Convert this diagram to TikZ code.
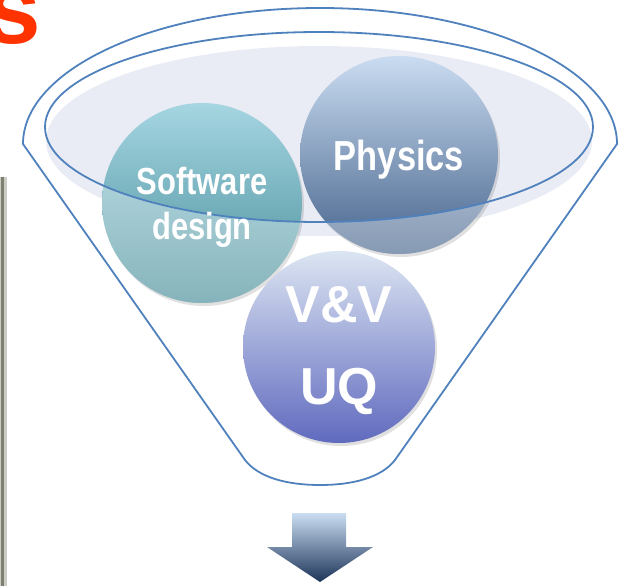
\documentclass[tikz,border=0pt]{standalone}
\usepackage{fontspec}
\setmainfont{Liberation Sans}
\newfontfamily\narrowsans[FakeStretch=0.82]{Liberation Sans}
\usetikzlibrary{positioning}

\definecolor{funnelblue}{RGB}{79,129,189}
\definecolor{rimfill}{RGB}{233,236,244}
\definecolor{softtop}{RGB}{165,214,226}
\definecolor{softbot}{RGB}{70,140,152}
\definecolor{phystop}{RGB}{202,220,241}
\definecolor{physbot}{RGB}{70,100,140}
\definecolor{vvtop}{RGB}{220,229,242}
\definecolor{vvbot}{RGB}{96,106,190}
\definecolor{titlered}{RGB}{255,51,0}
\definecolor{arrowtop}{RGB}{202,221,242}
\definecolor{arrowbot}{RGB}{28,52,88}
\definecolor{edgegray}{RGB}{128,128,112}

\tikzset{
  funnel/.style={draw=funnelblue, line width=1.8pt},
  ball/.style={circle, inner sep=0pt, text=white, align=center},
  ballshadow/.style={fill=black, opacity=.12},
  bigtext/.style={font=\bfseries\fontsize{52}{82}\selectfont},
  narrowtext/.style={font=\narrowsans\bfseries\fontsize{#1}{45}\selectfont},
}

\begin{document}
\begin{tikzpicture}[x=1pt, y=-1pt]
       \useasboundingbox (0,0) rectangle (627,586);

       \node[anchor=base east, inner sep=0pt, text=titlered, font=\bfseries\fontsize{100}{100}\selectfont] (title) at (41,44) {s};

       \draw[edgegray!40, line width=7pt] (3,177) -- (3,590);
       \draw[edgegray, line width=3pt] (2,177) -- (2,590);

       \draw[funnel] (23,144) arc[start angle=180, end angle=360, x radius=297, y radius=136]
             -- (395,460) .. controls (381,478) and (352,485) .. (320,485)
             .. controls (288,485) and (259,478) .. (245,460) -- cycle;

       \fill[rimfill] (319,141) ellipse [x radius=273, y radius=95];

       \fill[ballshadow] (204,206) circle (100);
       \fill[ballshadow] (401,158) circle (99);
       \fill[ballshadow] (341,350) circle (96);

       \node[ball, minimum size=200pt, top color=softtop, bottom color=softbot] (soft) at (202,203) {};
       \node[ball, minimum size=198pt, top color=phystop, bottom color=physbot] (phys) at (399,155) {};
       \node[ball, minimum size=192pt, top color=vvtop, bottom color=vvbot] (vv) at (339,347) {};

       \begin{scope}
         \clip (soft.center) circle (100) (phys.center) circle (99);
         \fill[white, opacity=.35, even odd rule] (0,0) rectangle (627,586) (319,127) ellipse [x radius=274, y radius=95];
       \end{scope}

       \draw[funnel] (319,127) ellipse [x radius=274, y radius=95];

       \node[ball, narrowtext=37.7] (softlabel) at ([yshift=-4pt]soft.center) {Software\\design};
       \node[ball, narrowtext=42] (physlabel) at ([yshift=-5pt]phys.center) {Physics};
       \node[ball, bigtext] (vvlabel) at ([yshift=-4pt]vv.center) {V\&V\\UQ};

       \shade[top color=arrowtop, bottom color=arrowbot] (292,513) -- (346,513) -- (346,547) -- (373,547)
             -- (320,582) -- (267,547) -- (292,547) -- cycle;

\end{tikzpicture}
\end{document}
